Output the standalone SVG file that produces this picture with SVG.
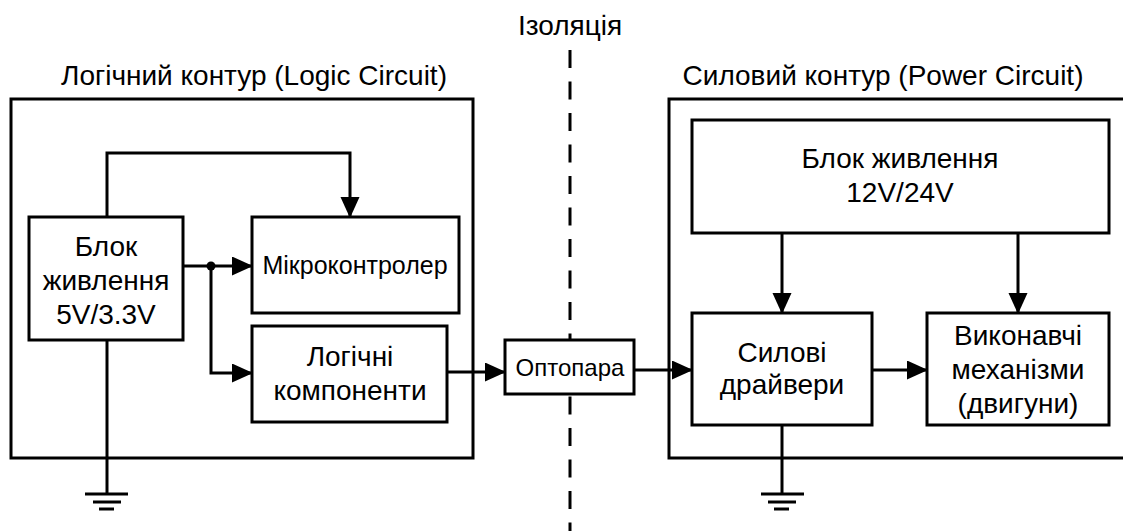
<svg xmlns="http://www.w3.org/2000/svg" width="1123" height="531" viewBox="0 0 1123 531">
  <style>
    .box { fill: #ffffff; stroke: #000000; stroke-width: 3; }
    .frame { fill: none; stroke: #000000; stroke-width: 3; }
    .wire { fill: none; stroke: #000000; stroke-width: 3; }
    .arrow { fill: none; stroke: #000000; stroke-width: 3; marker-end: url(#head); }
    .gnd { stroke: #000000; stroke-width: 3; }
    .iso { fill: none; stroke: #000000; stroke-width: 3; stroke-dasharray: 18 13.5; }
    text { font-family: "Liberation Sans", Arial, sans-serif; fill: #000000; text-anchor: middle; }
    .title { font-size: 28px; }
    .lbl { font-size: 28px; }
    .mid { font-size: 25px; }
    .small { font-size: 24px; }
  </style>
  <defs>
    <marker id="head" markerUnits="userSpaceOnUse" markerWidth="22" markerHeight="20" refX="20" refY="9.5" orient="auto">
      <path d="M0,0 L21,9.5 L0,19 z" fill="#000000"/>
    </marker>
  </defs>

  <rect width="1123" height="531" fill="#ffffff"/>

  <!-- isolation barrier -->
  <g id="isolation">
    <text class="title" x="570" y="35">Ізоляція</text>
    <line class="iso" x1="570" y1="50" x2="570" y2="531"/>
  </g>

  <!-- logic circuit frame -->
  <g id="logic-circuit">
    <text class="title" x="254" y="85">Логічний контур (Logic Circuit)</text>
    <rect class="frame" x="11" y="99" width="462" height="359"/>
  </g>

  <!-- power circuit frame (continues past the right edge) -->
  <g id="power-circuit">
    <text class="title" x="883" y="85">Силовий контур (Power Circuit)</text>
    <path class="frame" d="M1130,99 H669 V458 H1130"/>
  </g>

  <!-- connectors -->
  <g id="connectors">
    <!-- 5V supply to microcontroller (top route) -->
    <path class="arrow" d="M107,217 V153 H350 V217"/>
    <!-- 5V supply to microcontroller and logic -->
    <path class="arrow" d="M183,266 H252"/>
    <path class="arrow" d="M211,266 V373 H252"/>
    <circle cx="211" cy="266" r="4.5" fill="#000000"/>
    <!-- logic to optocoupler to drivers -->
    <path class="arrow" d="M447,372 H505"/>
    <path class="arrow" d="M634,370 H692"/>
    <!-- power supply to drivers and actuators -->
    <path class="arrow" d="M782,233 V313"/>
    <path class="arrow" d="M1018,233 V313"/>
    <!-- drivers to actuators -->
    <path class="arrow" d="M872,370 H927"/>
    <!-- ground returns -->
    <path class="wire" d="M107,340 V494"/>
    <path class="wire" d="M782,425 V494"/>
  </g>

  <!-- ground symbols -->
  <g id="ground-logic">
    <line class="gnd" x1="85" y1="494" x2="128" y2="494"/>
    <line class="gnd" x1="93" y1="502" x2="121" y2="502"/>
    <line class="gnd" x1="99" y1="509" x2="114" y2="509"/>
  </g>
  <g id="ground-power">
    <line class="gnd" x1="761" y1="494" x2="804" y2="494"/>
    <line class="gnd" x1="768" y1="502" x2="796" y2="502"/>
    <line class="gnd" x1="774" y1="509" x2="789" y2="509"/>
  </g>

  <!-- logic side blocks -->
  <g id="psu-logic">
    <rect class="box" x="29" y="217" width="154" height="123"/>
    <text class="lbl" x="106" y="256">Блок</text>
    <text class="lbl" x="106" y="290">живлення</text>
    <text class="lbl" x="106" y="324">5V/3.3V</text>
  </g>
  <g id="mcu">
    <rect class="box" x="252" y="217" width="207" height="96"/>
    <text class="mid" x="355" y="274">Мікроконтролер</text>
  </g>
  <g id="logic-parts">
    <rect class="box" x="252" y="326" width="195" height="96"/>
    <text class="lbl" x="350" y="366">Логічні</text>
    <text class="lbl" x="350" y="400">компоненти</text>
  </g>

  <!-- optocoupler across the barrier -->
  <g id="optocoupler">
    <rect class="box" x="505" y="340" width="129" height="54"/>
    <text class="small" x="570" y="376">Оптопара</text>
  </g>

  <!-- power side blocks -->
  <g id="psu-power">
    <rect class="box" x="692" y="120" width="417" height="113"/>
    <text class="lbl" x="900" y="168">Блок живлення</text>
    <text class="lbl" x="900" y="202">12V/24V</text>
  </g>
  <g id="drivers">
    <rect class="box" x="692" y="313" width="180" height="112"/>
    <text class="lbl" x="782" y="362">Силові</text>
    <text class="lbl" x="782" y="394">драйвери</text>
  </g>
  <g id="actuators">
    <rect class="box" x="927" y="313" width="182" height="112"/>
    <text class="lbl" x="1018" y="345">Виконавчі</text>
    <text class="lbl" x="1018" y="379">механізми</text>
    <text class="lbl" x="1018" y="413">(двигуни)</text>
  </g>
</svg>
